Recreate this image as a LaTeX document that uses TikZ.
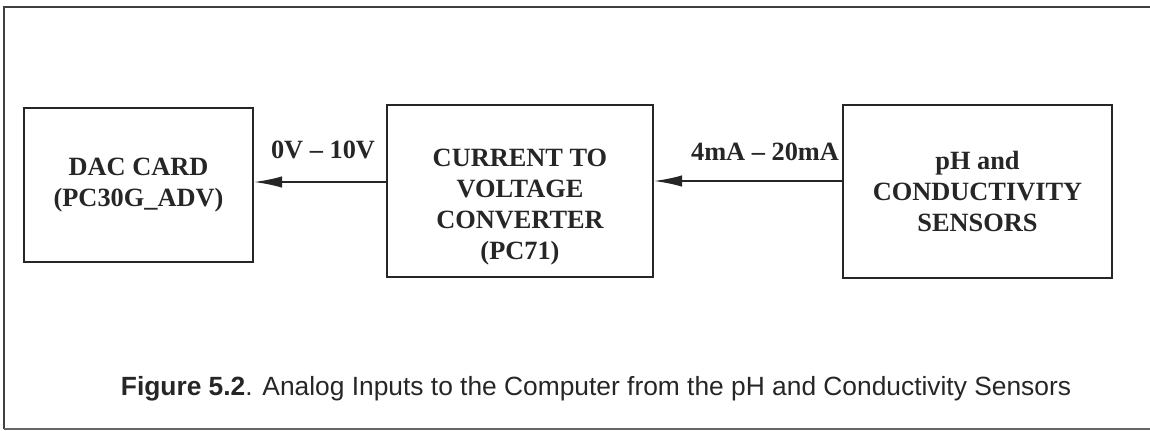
\documentclass[tikz,border=0pt]{standalone}
\usepackage{fontspec}
\setmainfont{Liberation Serif}
\setsansfont{Liberation Sans}
\usetikzlibrary{arrows.meta,positioning,calc}

\begin{document}
\begin{tikzpicture}[x=0.02cm, y=-0.02cm, >=Stealth,
  block/.style={rectangle, draw=black!85, line width=1.1pt, inner sep=0pt, align=center,
    font=\fontsize{15pt}{17.8pt}\selectfont\bfseries, text=black!85},
  boxtext/.style={align=center, font=\fontsize{15pt}{17.8pt}\selectfont\bfseries, text=black!85},
  sig/.style={draw=black!85, line width=1.1pt, -{Latex[length=16pt, width=6.5pt]}},
  siglabel/.style={font=\fontsize{15pt}{17.8pt}\selectfont\bfseries, text=black!85, inner sep=0pt},
  caption/.style={font=\fontsize{15pt}{17pt}\selectfont\sffamily, text=black!85, anchor=base, inner sep=0pt}
  ]
\useasboundingbox (0,0) rectangle (1150,430);

% outer frame
\draw[black!75, line width=1.4pt] (4,429) -- (4,7) -- (1160,7);
\draw[black!60, line width=1.2pt] (4,429) -- (1160,429);

% blocks
\node[block, minimum width=4.58cm, minimum height=3.08cm] (dac) at (138.5,185) {DAC CARD\\(PC30G\_ADV)};
\node[block, minimum width=5.32cm, minimum height=3.44cm,
  label={[boxtext, yshift=-0.32cm]center:{CURRENT TO\\VOLTAGE\\CONVERTER\\(PC71)}}] (conv) at (520,191) {};
\node[block, minimum width=5.38cm, minimum height=3.46cm] (sens) at (977.5,191.5) {pH and\\CONDUCTIVITY\\SENSORS};

% signals
\draw[sig] ([yshift=0.18cm]conv.west) -- ([yshift=0.18cm]conv.west -| dac.east);
\draw[sig] ([yshift=0.21cm]sens.west) -- ([yshift=0.21cm]sens.west -| conv.east);
\node[siglabel] (volt) at (323,150) {0V -- 10V};
\node[siglabel] (amp) at (765,152) {4mA -- 20mA};

% caption
\node[caption] (cap) at (596,395) {\textbf{Figure 5.2}. Analog Inputs to the Computer from the pH and Conductivity Sensors};

\end{tikzpicture}
\end{document}
